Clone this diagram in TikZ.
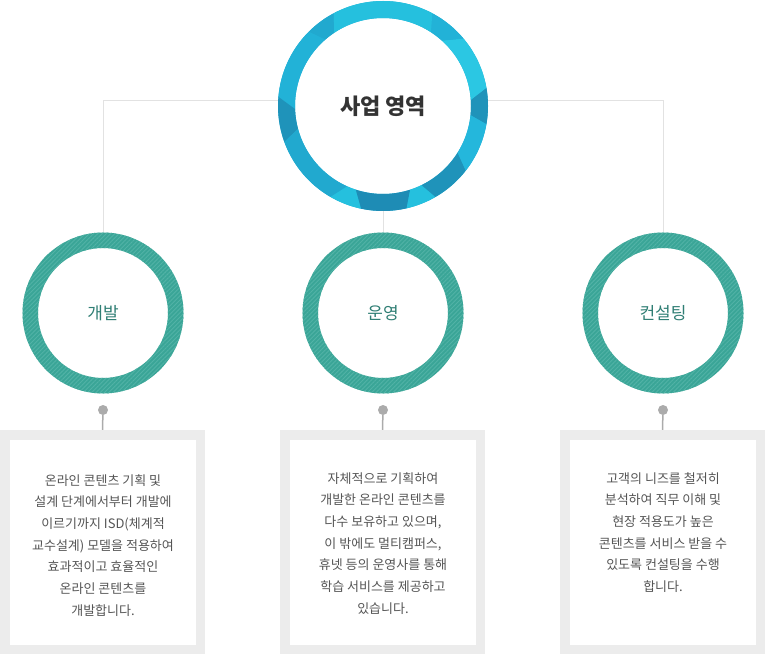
\documentclass[tikz,border=0pt]{standalone}
\usepackage{fontspec}
\setmainfont{Noto Sans CJK KR}
\usetikzlibrary{calc,patterns.meta}
\pgfdeclarelayer{background}
\pgfsetlayers{background,main}

\definecolor{ringTeal}{HTML}{3AA597}
\definecolor{stripeTeal}{HTML}{52B3A7}
\definecolor{labelTeal}{HTML}{2F7E74}
\definecolor{lineGrey}{HTML}{E2E2E2}
\definecolor{frameGrey}{HTML}{ECECEC}
\definecolor{dotGrey}{HTML}{ABABAB}
\definecolor{bodyText}{HTML}{555555}
\definecolor{titleText}{HTML}{333333}
\definecolor{blueA}{HTML}{1F93BA}
\definecolor{blueB}{HTML}{2BC7E3}
\definecolor{blueC}{HTML}{22B2D7}
\definecolor{blueD}{HTML}{25C0DE}
\definecolor{blueE}{HTML}{21A9CF}
\definecolor{blueF}{HTML}{1E8CB5}
\definecolor{blueG}{HTML}{24B7DC}

\begin{document}
\begin{tikzpicture}
        [   x=1pt, y=1pt,
            MainNode/.style=
            {circle, fill=white, minimum size=210pt, inner sep=0pt,
            font=\fontsize{22}{26}\selectfont\bfseries, text=titleText},
            AreaNode/.style=
            {circle, fill=white, minimum size=161pt, inner sep=0pt,
            font=\fontsize{17}{20}\selectfont, text=labelTeal},
            PinDot/.style=
            {circle, fill=dotGrey, minimum size=10pt, inner sep=0pt},
            DescBox/.style=
            {rectangle, draw=frameGrey, fill=white, line width=9.5pt,
            minimum width=195.5pt, minimum height=214.5pt},
            DescText/.style=
            {anchor=north, align=center, inner sep=0pt, text=bodyText,
            font=\fontsize{13}{21.7}\selectfont},
            LinkLine/.style={draw=lineGrey, line width=1pt},
            PinLine/.style={draw=dotGrey, line width=1.5pt}
        ]
            \useasboundingbox (0,0) rectangle (765,654);

            % business area circle
            \node[MainNode] (main) at (383,548) {사업 영역};
            \fill[blueC, even odd rule] (main.center) circle[radius=105] circle[radius=88];
            \foreach \a/\b/\s/\t/\c in {-10/10/4/-6/blueA, 10/40/-6/8/blueB,
                40/62/8/-5/blueC, 62/118/-5/6/blueD, 118/135/6/-4/blueE,
                135/175/-4/7/blueC, 175/200/7/-5/blueA, 200/240/-5/6/blueE,
                240/258/6/-6/blueD, 258/283/-6/5/blueF, 283/300/5/-4/blueD,
                300/322/-4/6/blueA, 322/350/6/4/blueG}
                \fill[\c] ($(main.center)+(\a:105)$) arc[start angle=\a, end angle=\b, radius=105]
                    -- ($(main.center)+(\b+\t:88)$) arc[start angle=\b+\t, end angle=\a+\s, radius=88]
                    -- cycle;

            % three areas
            \foreach \n/\x/\l in {dev/103/개발, ops/383/운영, con/663/컨설팅}
            {
                \node[AreaNode] (\n) at (\x,341) {\l};
                \fill[ringTeal, even odd rule] (\n.center) circle[radius=80.5] circle[radius=65];
                \fill[pattern={Lines[angle=45, distance=3pt, line width=0.9pt]},
                    pattern color=stripeTeal, even odd rule]
                    (\n.center) circle[radius=80.5] circle[radius=65];
                \node[PinDot] (\n pin) at (\x,244) {};
                \node[DescBox] (\n box) at (\x-0.5,112) {};
            }

            \begin{pgfonlayer}{background}
                \coordinate (busL) at (103,553);
                \coordinate (busR) at (663,553);
                \draw[LinkLine] (dev.north) -- (busL) -- (busR) -- (con.north);
                \draw[LinkLine] (main.south) -- (ops.north);
                \foreach \n in {dev, ops, con}
                    \draw[PinLine] (\n pin) -- (\n box.north);
            \end{pgfonlayer}

            \node[DescText] (devtxt) at (103,180)
                {온라인 콘텐츠 기획 및\\설계 단계에서부터 개발에\\이르기까지 ISD(체계적\\교수설계) 모델을 적용하여\\효과적이고 효율적인\\온라인 콘텐츠를\\개발합니다.};
            \node[DescText] (opstxt) at (383,182)
                {자체적으로 기획하여\\개발한 온라인 콘텐츠를\\다수 보유하고 있으며,\\이 밖에도 멀티캠퍼스,\\휴넷 등의 운영사를 통해\\학습 서비스를 제공하고\\있습니다.};
            \node[DescText] (context) at (663,182)
                {고객의 니즈를 철저히\\분석하여 직무 이해 및\\현장 적용도가 높은\\콘텐츠를 서비스 받을 수\\있도록 컨설팅을 수행\\합니다.};
    \end{tikzpicture}
\end{document}
